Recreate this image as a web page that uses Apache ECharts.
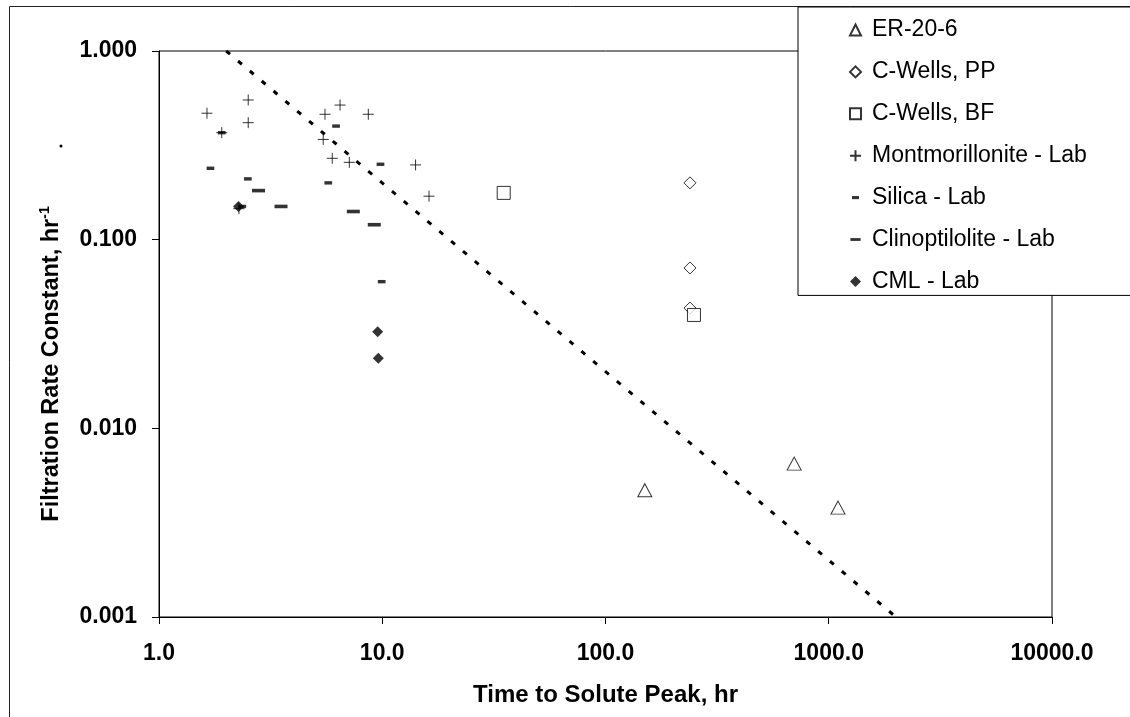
<!DOCTYPE html>
<html>
<head>
<meta charset="utf-8">
<script src="https://cdn.jsdelivr.net/npm/echarts@6/dist/echarts.min.js"></script>
<style>
html,body{margin:0;padding:0;background:#fff;}
#chart{width:1130px;height:717px;}
</style>
</head>
<body>
<div id="chart"></div>
<script>
// ---- data ----
const seriesNames = ['ER-20-6', 'C-Wells, PP', 'C-Wells, BF', 'Montmorillonite - Lab', 'Silica - Lab', 'Clinoptilolite - Lab', 'CML - Lab'];

const erX = [150, 700, 1100];
const erY = [0.0047, 0.0065, 0.0038];

const ppX = [239, 239, 239];
const ppY = [0.200, 0.0708, 0.0434];

const bfX = [35, 249];
const bfY = [0.177, 0.0399];

const montX = [1.64, 2.51, 2.51, 1.91, 5.54, 6.47, 8.66, 5.44, 5.97, 7.12, 14.1, 16.2, 2.28];
const montY = [0.468, 0.550, 0.417, 0.369, 0.462, 0.517, 0.462, 0.340, 0.270, 0.257, 0.249, 0.170, 0.146];

const silX = [1.70, 2.50, 6.21, 5.73, 9.82, 9.94, 1.91, 2.36];
const silY = [0.239, 0.210, 0.400, 0.200, 0.251, 0.0599, 0.369, 0.150];

const clinoX = [2.79, 3.52, 7.42, 9.21];
const clinoY = [0.182, 0.150, 0.141, 0.120];

const cmlX = [2.27, 9.54, 9.60];
const cmlY = [0.150, 0.0325, 0.0235];

const fitLineX = [2, 2000];
const fitLineY = [1.0, 0.001];

const xTickLabels = ['1.0', '10.0', '100.0', '1000.0', '10000.0'];
const yTickLabels = ['0.001', '0.010', '0.100', '1.000'];

// ---- chart ----
const pairs = (xs, ys) => xs.map((x, i) => [x, ys[i]]);
const FONT = "'Liberation Sans', Arial, Helvetica, sans-serif";

const plusPath = 'path://M0,5 L10,5 M5,0 L5,10';
const shortDashPath = 'path://M0,0 M12,12 M2.15,4.3 L9.85,4.3 L9.85,7.7 L2.15,7.7 Z';
const longDashPath = 'path://M0,0 M14,14 M0.5,5.2 L13.5,5.2 L13.5,8.8 L0.5,8.8 Z';

const openStyle = { color: '#fff', borderColor: '#000', borderWidth: 1 };
const filledStyle = { color: '#000', borderWidth: 0 };

const chart = echarts.init(document.getElementById('chart'), null, { renderer: 'canvas' });

chart.setOption({
  animation: false,
  backgroundColor: '#fff',
  textStyle: { fontFamily: FONT },
  grid: {
    left: 159, top: 51, right: 78, bottom: 100,
    show: true, borderColor: '#000', borderWidth: 1, backgroundColor: 'transparent'
  },
  legend: {
    orient: 'vertical',
    left: 798, top: 7,
    padding: [11, 320, 2, 51],
    itemGap: 17.9,
    itemWidth: 11, itemHeight: 11,
    backgroundColor: '#fff',
    borderColor: '#000', borderWidth: 1,
    selectedMode: false,
    textStyle: { fontSize: 23, color: '#000', fontFamily: FONT, lineHeight: 24, padding: [0, 0, 0, 6] },
    data: seriesNames
  },
  xAxis: {
    type: 'log', logBase: 10, min: 1, max: 10000,
    name: 'Time to Solute Peak, hr',
    nameLocation: 'middle', nameGap: 66,
    nameTextStyle: { fontSize: 24, fontWeight: 'bold', color: '#000', fontFamily: FONT },
    axisLine: { show: true, lineStyle: { color: '#000', width: 1 } },
    axisTick: { show: true, length: 7, lineStyle: { color: '#000' } },
    minorTick: { show: false },
    splitLine: { show: false },
    axisLabel: {
      margin: 25, fontSize: 23, fontWeight: 'bold', color: '#000', fontFamily: FONT,
      formatter: v => xTickLabels[Math.round(Math.log10(v))] ?? ''
    }
  },
  yAxis: {
    type: 'log', logBase: 10, min: 0.001, max: 1,
    name: '{t|Filtration Rate Constant, hr}{s|-1}',
    nameLocation: 'middle', nameGap: 94,
    nameTextStyle: {
      color: '#000', fontFamily: FONT,
      padding: [0, 60, 0, 0],
      rich: {
        t: { fontSize: 23.5, fontWeight: 'bold', color: '#000', fontFamily: FONT, lineHeight: 27 },
        s: { fontSize: 14, fontWeight: 'bold', color: '#000', fontFamily: FONT, verticalAlign: 'top' }
      }
    },
    axisLine: { show: true, lineStyle: { color: '#000', width: 1 } },
    axisTick: { show: true, length: 7, lineStyle: { color: '#000' } },
    minorTick: { show: false },
    splitLine: { show: false },
    axisLabel: {
      margin: 22, fontSize: 23, fontWeight: 'bold', color: '#000', fontFamily: FONT,
      formatter: v => yTickLabels[Math.round(Math.log10(v)) + 3] ?? ''
    }
  },
  graphic: [
    { type: 'rect', z: -10, silent: true,
      shape: { x: 9.5, y: 6.5, width: 1300, height: 900 },
      style: { fill: 'none', stroke: '#222', lineWidth: 1 } },
    { type: 'circle', silent: true,
      shape: { cx: 61, cy: 146, r: 1.5 },
      style: { fill: '#000' } }
  ],
  series: [
    { name: 'fit', type: 'line', data: pairs(fitLineX, fitLineY), symbol: 'none', silent: true, z: 1,
      lineStyle: { color: '#000', width: 3, type: [5, 10.5] } },
    { name: seriesNames[0], type: 'scatter', data: pairs(erX, erY), symbol: 'triangle', symbolSize: [14, 13], itemStyle: openStyle },
    { name: seriesNames[1], type: 'scatter', data: pairs(ppX, ppY), symbol: 'diamond', symbolSize: 12, itemStyle: openStyle },
    { name: seriesNames[2], type: 'scatter', data: pairs(bfX, bfY), symbol: 'rect', symbolSize: 13, itemStyle: openStyle },
    { name: seriesNames[3], type: 'scatter', data: pairs(montX, montY), symbol: plusPath, symbolSize: 11,
      itemStyle: { color: 'transparent', borderColor: '#000', borderWidth: 1 } },
    { name: seriesNames[4], type: 'scatter', data: pairs(silX, silY), symbol: shortDashPath, symbolSize: 12, itemStyle: filledStyle },
    { name: seriesNames[5], type: 'scatter', data: pairs(clinoX, clinoY), symbol: longDashPath, symbolSize: 14, itemStyle: filledStyle },
    { name: seriesNames[6], type: 'scatter', data: pairs(cmlX, cmlY), symbol: 'diamond', symbolSize: 11, itemStyle: filledStyle }
  ]
});
</script>
</body>
</html>
